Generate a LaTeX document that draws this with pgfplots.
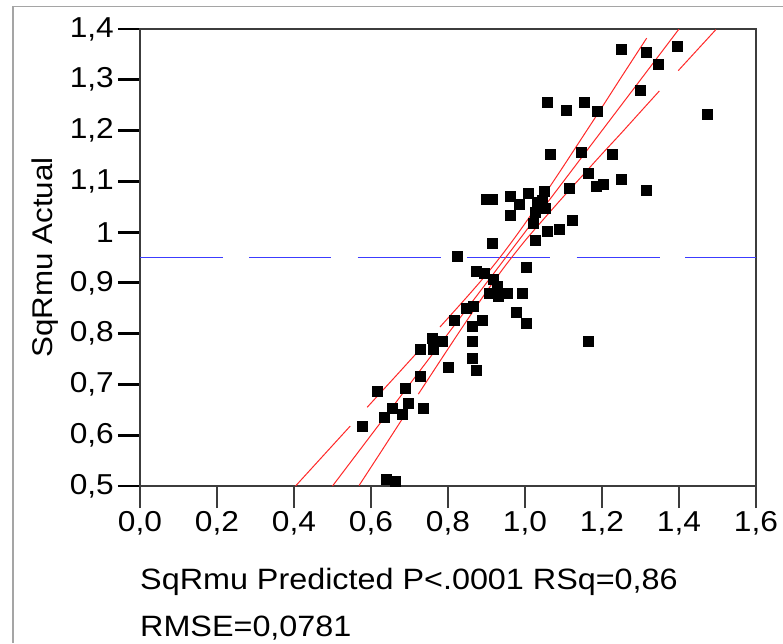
\documentclass[border=0pt]{standalone}
\usepackage{fontspec}
\setmainfont{Liberation Sans}[FakeStretch=1.1]
\usepackage{pgfplots}
\pgfplotsset{compat=1.18}
\definecolor{fitred}{RGB}{255,40,40}
\definecolor{meanblue}{RGB}{60,60,255}
\definecolor{axisgray}{RGB}{60,60,60}
\definecolor{framegray}{RGB}{165,165,165}

\begin{document}
\begin{tikzpicture}
\useasboundingbox (-140pt,-157pt) rectangle (643pt,486pt);
\draw[framegray, line width=1.3pt] (-127pt,-157pt) -- (-127pt,479.5pt) -- (643pt,479.5pt);
\begin{axis}[
    at={(0pt,0pt)}, anchor=south west,
    scale only axis,
    width=616pt, height=457pt,
    xmin=0, xmax=1.6, ymin=0.5, ymax=1.4,
    xtick={0,0.2,0.4,0.6,0.8,1.0,1.2,1.4,1.6},
    ytick={0.5,0.6,0.7,0.8,0.9,1.0,1.1,1.2,1.3,1.4},
    tick align=outside, tick pos=left,
    major tick length=22pt,
    axis line style={axisgray, line width=1.3pt},
    xtick style={axisgray, line width=1.6pt},
    ytick style={black, line width=2.8pt},
    tick label style={font=\fontsize{28.8}{34}\selectfont},
    xticklabel style={/pgf/number format/.cd, fixed, fixed zerofill, precision=1, use comma, assume math mode=true},
    yticklabel style={inner xsep=4pt, /pgf/number format/.cd, fixed, precision=1, use comma, assume math mode=true},
    xlabel={SqRmu Predicted P<.0001 RSq=0,86\\RMSE=0,0781},
    xlabel style={at={(axis description cs:0,-0.1805)}, anchor=north west, align=left,
        inner sep=0pt, font=\fontsize{29.4}{46.7}\selectfont},
    ylabel={SqRmu Actual},
    ylabel style={at={(axis description cs:-0.1315,0.5)}, anchor=south, inner sep=0pt,
        font=\fontsize{28.5}{34}\selectfont},
    unbounded coords=jump,
]
% mean line, drawn as its visible dashes
\addplot[meanblue, line width=1.4pt] coordinates {
(0,0.95)(0.215,0.95) (0.25,nan)
(0.284,0.95)(0.496,0.95) (0.53,nan)
(0.565,0.95)(0.782,0.95) (0.81,nan)
(0.849,0.95)(1.065,0.95) (1.1,nan)
(1.134,0.95)(1.351,0.95) (1.38,nan)
(1.416,0.95)(1.6,0.95)};

% observations
\addplot[only marks, mark=square*, mark size=5pt, black, mark options={line width=0.4pt}] coordinates {
(1.251,1.361)(1.316,1.355)(1.395,1.366)(1.347,1.330)(1.299,1.279)
(1.057,1.256)(1.106,1.240)(1.154,1.256)(1.187,1.239)(1.474,1.233)
(1.066,1.153)(1.147,1.157)(1.227,1.153)(1.163,1.117)(1.251,1.105)
(1.186,1.090)(1.203,1.094)(1.115,1.086)(1.316,1.082)
(0.900,1.065)(0.915,1.065)(0.962,1.070)(1.009,1.076)(1.050,1.081)
(0.985,1.054)(1.044,1.063)(0.961,1.034)(1.026,1.040)(1.052,1.047)
(1.020,1.018)(1.123,1.024)(1.057,1.002)(1.089,1.006)(1.026,0.985)
(0.914,0.979)(0.825,0.952)(1.032,1.058)
(1.002,0.930)(0.872,0.924)(0.895,0.919)(0.918,0.907)(0.927,0.893)
(0.908,0.880)(0.931,0.874)(0.953,0.880)(0.994,0.880)
(0.848,0.850)(0.865,0.855)(0.978,0.843)(0.816,0.827)(0.889,0.827)
(1.002,0.821)(0.864,0.815)(0.784,0.786)(0.864,0.786)(1.163,0.786)
(0.864,0.752)(0.801,0.734)(0.872,0.728)(0.760,0.791)(0.729,0.769)
(0.762,0.769)(0.729,0.717)(0.617,0.686)(0.690,0.693)(0.655,0.653)
(0.697,0.663)(0.736,0.653)(0.633,0.635)(0.681,0.642)(0.577,0.618)
(0.640,0.514)(0.664,0.509)
};

% line of fit
\addplot[fitred, line width=1pt] coordinates {(0.5,0.5)(1.4,1.4)};

% upper confidence curve
\addplot[fitred, line width=1pt] coordinates {(0.404,0.500)(0.475,0.559)(0.546,0.618)};
\addplot[fitred, line width=1pt] coordinates {(0.590,0.655)(0.665,0.717)(0.738,0.778)};
\addplot[fitred, line width=1pt, smooth] coordinates {
(0.779,0.813)(0.85,0.873)(0.90,0.917)(0.95,0.965)(1.00,1.017)(1.05,1.073)
(1.10,1.130)(1.15,1.188)(1.20,1.246)(1.25,1.305)(1.316,1.382)};

% lower confidence curve
\addplot[fitred, line width=1pt] coordinates {(0.569,0.501)(0.63,0.572)(0.688,0.640)};
\addplot[fitred, line width=1pt, smooth] coordinates {
(0.723,0.681)(0.80,0.770)(0.85,0.827)(0.90,0.883)(0.95,0.935)(1.00,0.983)
(1.05,1.027)(1.10,1.070)(1.15,1.112)(1.20,1.154)(1.25,1.195)(1.30,1.237)(1.349,1.278)};
\addplot[fitred, line width=1pt] coordinates {(1.398,1.318)(1.45,1.361)(1.496,1.399)};
\end{axis}
\end{tikzpicture}
\end{document}
